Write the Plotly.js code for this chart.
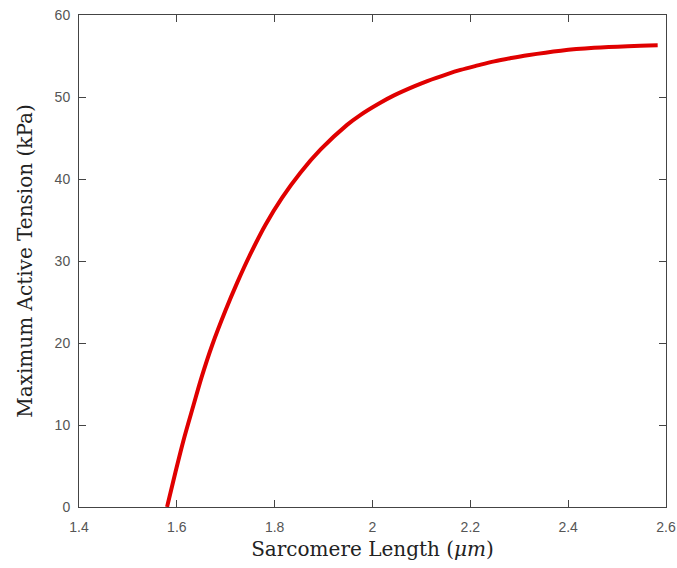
<!DOCTYPE html>
<html>
<head>
<meta charset="utf-8">
<script src="https://cdn.plot.ly/plotly-3.0.1.min.js"></script>
<style>html,body{margin:0;padding:0;background:#fff;}#chart{width:677px;height:568px;}</style>
</head>
<body>
<div id="chart"></div>
<script>
const sarcomereLength = [1.580, 1.597, 1.614, 1.634, 1.651, 1.672, 1.699, 1.723, 1.750, 1.781, 1.815, 1.853, 1.894, 1.948, 1.975, 2.016, 2.044, 2.085, 2.112, 2.153, 2.180, 2.215, 2.249, 2.283, 2.317, 2.385, 2.453, 2.522, 2.583];
const activeTension  = [0.0, 4.2, 8.2, 12.4, 15.9, 19.7, 23.9, 27.3, 30.8, 34.4, 37.7, 40.8, 43.6, 46.6, 47.8, 49.3, 50.2, 51.3, 51.95, 52.8, 53.3, 53.85, 54.35, 54.75, 55.1, 55.65, 56.0, 56.2, 56.3];
const xTicks = [1.4, 1.6, 1.8, 2, 2.2, 2.4, 2.6];
const xTickText = ['1.4', '1.6', '1.8', '2', '2.2', '2.4', '2.6'];
const yTicks = [0, 10, 20, 30, 40, 50, 60];

const trace = {
  x: sarcomereLength,
  y: activeTension,
  type: 'scatter',
  mode: 'lines',
  line: {color: '#e00000', width: 4, shape: 'spline', smoothing: 1},
  hoverinfo: 'skip'
};

const axisCommon = {
  showline: true, linecolor: '#444', linewidth: 1, mirror: 'ticks',
  ticks: 'inside', ticklen: 7, tickcolor: '#444', tickwidth: 1,
  showgrid: false, zeroline: false,
  tickfont: {family: 'Liberation Sans, Arial, sans-serif', size: 14, color: '#555'}
};

const layout = {
  width: 677, height: 568,
  margin: {l: 79, r: 11, t: 15, b: 61},
  paper_bgcolor: '#fff', plot_bgcolor: '#fff',
  showlegend: false,
  xaxis: Object.assign({}, axisCommon, {
    range: [1.4, 2.6], tickvals: xTicks, ticktext: xTickText,
    ticklabelstandoff: 7,
    title: {text: 'Sarcomere Length (<i>μm</i>)', standoff: 8,
      font: {family: 'DejaVu Serif, serif', size: 20, color: '#222'}}
  }),
  yaxis: Object.assign({}, axisCommon, {
    range: [0, 60], tickvals: yTicks,
    ticklabelstandoff: 5,
    title: {text: 'Maximum Active Tension (kPa)', standoff: 16,
      font: {family: 'DejaVu Serif, serif', size: 20, color: '#222'}}
  })
};

Plotly.newPlot('chart', [trace], layout, {displayModeBar: false, staticPlot: true});
</script>
</body>
</html>
